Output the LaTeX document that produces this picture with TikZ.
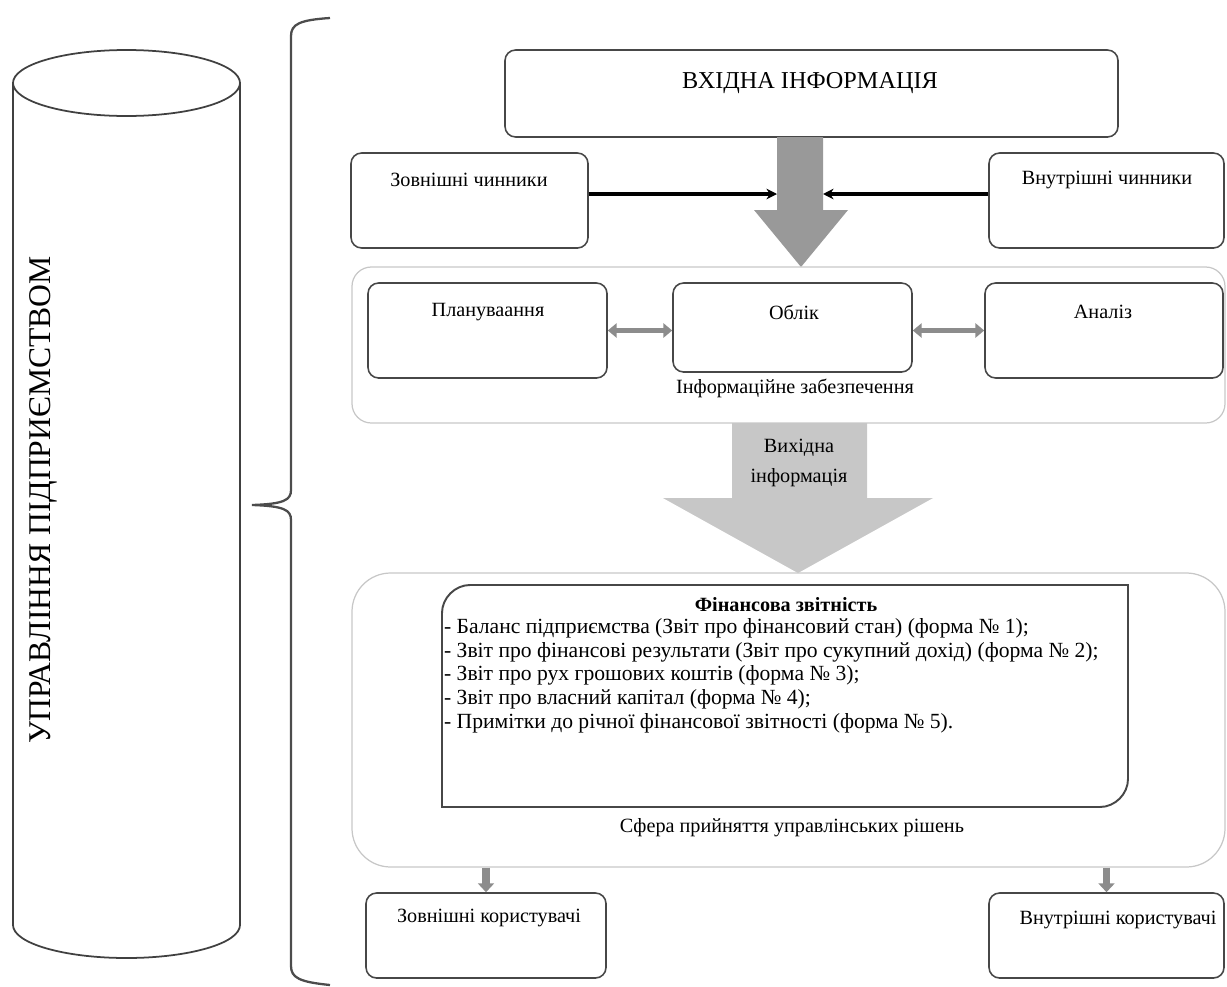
\documentclass[tikz,border=0pt]{standalone}
\usepackage{fontspec}
\setmainfont{Liberation Serif}
\usetikzlibrary{positioning,calc,fit,arrows.meta}
\tikzset{font=\fontsize{11.5}{13}\selectfont}

\begin{document}
\begin{tikzpicture}[x=0.02cm, y=-0.02cm]
	\tikzstyle{every node}=[align=center, inner sep=1pt]
	\tikzstyle{box}=[draw=black!72, line width=0.9pt, rounded corners=6pt, inner sep=0pt]
	\tikzstyle{area}=[draw=black!22, line width=0.7pt, inner sep=0pt]
	\tikzstyle{feed}=[black, line width=2pt, -{Stealth[length=6pt,width=6pt]}]
	\tikzstyle{twoway}=[black!45, line width=2.8pt, {Triangle[length=5pt,width=8pt]}-{Triangle[length=5pt,width=8pt]}]
	\tikzstyle{drop}=[black!45, line width=4.5pt, -{Triangle[length=5pt,width=9pt]}]
	\useasboundingbox (0,0) rectangle (1227,987);

	% cylinder on the left
	\draw[black!75, line width=1pt] (126.5,83) ellipse [x radius=113.5, y radius=33];
	\draw[black!75, line width=1pt] (13,83) -- (13,925) arc[start angle=180, end angle=0, x radius=113.5, y radius=33] -- (240,83);
	\node[rotate=90, font=\fontsize{18}{20}\selectfont] (mgmt) at (43,500) {УПРАВЛІННЯ ПІДПРИЄМСТВОМ};

	% brace
	\draw[black!70, line width=1.3pt] (330,18) .. controls (300,20) and (291,24) .. (291,36) -- (291,490)
		.. controls (291,500) and (284,504) .. (252,505) .. controls (284,506) and (291,510) .. (291,520)
		-- (291,966) .. controls (291,978) and (300,982) .. (330,985);

	% input level
	\node[box, fit={(505,50) (1118,137)}] (inp) {};
	\node[font=\fontsize{13.8}{15}\selectfont] (inpt) at (810,83) {ВХІДНА ІНФОРМАЦІЯ};
	\node[box, fit={(351,153) (588,248)}] (extf) {};
	\node (extft) at (469,180) {Зовнішні чинники};
	\node[box, fit={(989,153) (1224,248)}] (intf) {};
	\node (intft) at (1107,180) {Внутрішні чинники};

	\fill[black!40] (777,137) -- (823,137) -- (823,210) -- (848,210) -- (801,267) -- (754,210) -- (777,210) -- cycle;
	\coordinate (shl) at (777,194);
	\coordinate (shr) at (823,194);
	\draw[feed] (extf.east |- shl) -- (shl);
	\draw[feed] (intf.west |- shr) -- (shr);

	% information support
	\node[area, rounded corners=11pt, fit={(352,267) (1225,423)}] (infosup) {};
	\node[box, fit={(368,283) (607,378)}] (plan) {};
	\node[box, fit={(673,283) (912,372)}] (obl) {};
	\node[box, fit={(985,283) (1223,378)}] (anal) {};
	\node (plant) at (488,312) {Плануваання};
	\node (oblt) at (794,312) {Облік};
	\node (analt) at (1103,312) {Аналіз};
	\node (infot) at (795,388) {Інформаційне забезпечення};
	\draw[twoway] (plan.east) -- (plan.east -| obl.west);
	\draw[twoway] (obl.east |- plan.east) -- (plan.east -| anal.west);

	% output
	\fill[black!22] (732,423) -- (867,423) -- (867,498) -- (933,498) -- (798,573) -- (663,498) -- (732,498) -- cycle;
	\node[font=\fontsize{11.5}{17}\selectfont] (outt) at (799,463) {Вихідна\\інформація};

	% decisions
	\node[area, rounded corners=22pt, fit={(352,573) (1225,867)}] (sfera) {};
	\draw[black!72, line width=1.1pt] (442,807) -- (442,613) .. controls (442,598) and (455,585) .. (470,585) -- (1128,585)
		-- (1128,779) .. controls (1128,794) and (1115,807) .. (1100,807) -- cycle;
	\node (fint) at (786,605) {\textbf{Фінансова звітність}};
	\node[anchor=north west, align=left, font=\fontsize{12.3}{13.6}\selectfont] (finlist) at (442,616) {%
		- Баланс підприємства (Звіт про фінансовий стан) (форма № 1);\\
		- Звіт про фінансові результати (Звіт про сукупний дохід) (форма № 2);\\
		- Звіт про рух грошових коштів (форма № 3);\\
		- Звіт про власний капітал (форма № 4);\\
		- Примітки до річної фінансової звітності (форма № 5).};
	\node (sferat) at (792,828) {Сфера прийняття управлінських рішень};

	% users
	\node[box, fit={(366,893) (606,978)}] (extu) {};
	\node[box, fit={(989,893) (1224,978)}] (intu) {};
	\node (extut) at (489,918) {Зовнішні користувачі};
	\node (intut) at (1118,920) {Внутрішні користувачі};
	\draw[drop] (extu.north |- sfera.south) -- (extu.north);
	\draw[drop] (intu.north |- sfera.south) -- (intu.north);
\end{tikzpicture}
\end{document}
